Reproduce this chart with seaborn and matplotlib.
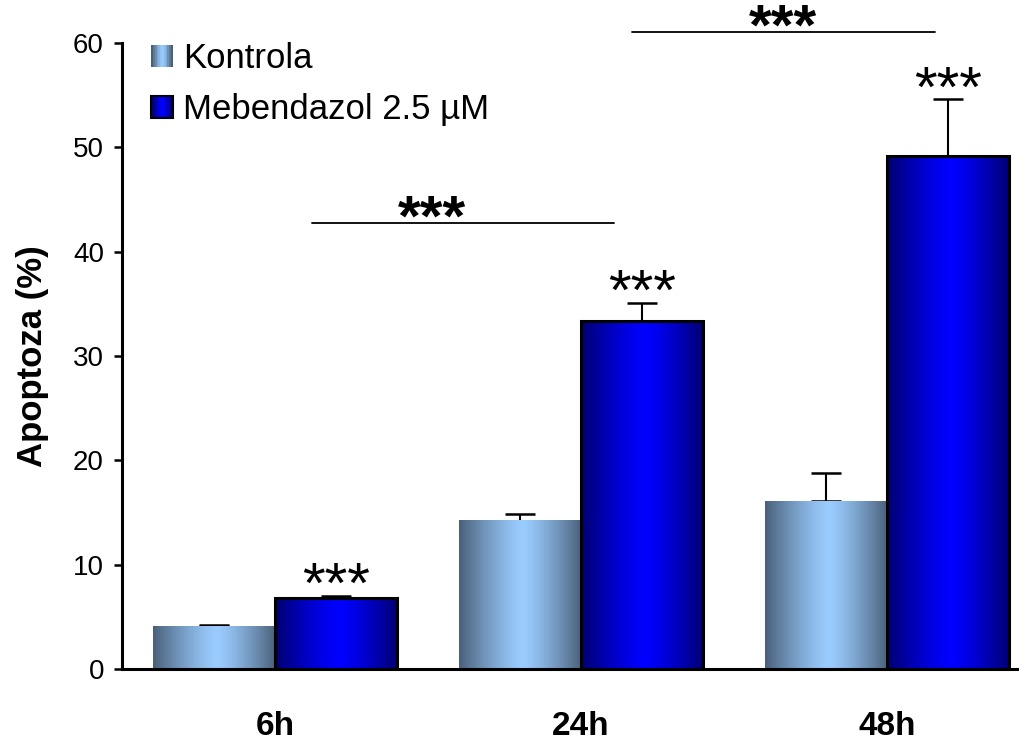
import numpy as np
import pandas as pd
import matplotlib
matplotlib.use("Agg")
import matplotlib.pyplot as plt
from matplotlib.patches import Rectangle
from matplotlib.legend_handler import HandlerBase
from matplotlib.colors import to_rgb
import seaborn as sns

# ---- data -------------------------------------------------------------
times = ["6h", "24h", "48h"]
groups = ["Kontrola", "Mebendazol 2.5 µM"]
kontrola = [4.1, 14.2, 16.1]
kontrola_err = [0.1, 0.7, 2.7]
mebendazol = [6.8, 33.4, 49.2]
mebendazol_err = [0.2, 1.7, 5.4]
y_ticks = [0, 10, 20, 30, 40, 50, 60]
bar_stars = ["***", "***", "***"]
bracket_stars = ["***", "***"]

# ---- style ------------------------------------------------------------
sns.set_theme(style="white")
plt.rcParams["font.family"] = ["Liberation Sans", "DejaVu Sans"]
for key in ("text.color", "axes.labelcolor", "xtick.color", "ytick.color"):
    plt.rcParams[key] = "black"

# edge / centre colours of the shaded bars
shades = {
    groups[0]: (to_rgb("#4a6079"), to_rgb("#9accff"), None),
    groups[1]: (to_rgb("#000070"), to_rgb("#0000ff"), "black"),
}


def gradient_row(edge, centre, n=256, peak=0.52):
    x = np.linspace(0, 1, n)
    t = np.where(x < peak, (peak - x) / peak, (x - peak) / (1 - peak))
    t = t ** 1.3
    e = np.array(edge)
    c = np.array(centre)
    return (c[None, :] + (e - c)[None, :] * t[:, None])[None, :, :]


df = pd.DataFrame({
    "time": times * 2,
    "group": [groups[0]] * 3 + [groups[1]] * 3,
    "value": kontrola + mebendazol,
})

fig = plt.figure(figsize=(10.19, 7.44), dpi=100)
ax = fig.add_axes([122 / 1019, 75 / 744, 918 / 1019, 626 / 744])

sns.barplot(data=df, x="time", y="value", hue="group", order=times,
            hue_order=groups, errorbar=None, width=0.8, gap=0,
            legend=False, ax=ax)

ax.set_xlim(-0.5, 2.5)
ax.set_ylim(0, 60)

STAR_SIZE = 42

# shade each bar with a horizontal gradient and add upper error bars
errs = [kontrola_err, mebendazol_err]
bar_containers = list(ax.containers)
for gi, cont in enumerate(bar_containers):
    edge, centre, outline = shades[groups[gi]]
    grad = gradient_row(edge, centre)
    xs, ys = [], []
    for patch in cont.patches:
        x0, w, h = patch.get_x(), patch.get_width(), patch.get_height()
        ax.imshow(grad, extent=[x0, x0 + w, 0, h], aspect="auto",
                  interpolation="bilinear", zorder=2)
        patch.set_facecolor("none")
        if outline:
            patch.set_edgecolor(outline)
            patch.set_linewidth(2.2)
            patch.set_zorder(3)
        else:
            patch.set_edgecolor("none")
        xs.append(x0 + w / 2)
        ys.append(h)
    ax.errorbar(xs, ys, yerr=[np.zeros(len(ys)), errs[gi]], fmt="none",
                ecolor="black", elinewidth=1.5, capsize=11, capthick=1.8,
                zorder=1.5)
    if gi == 1:
        for x, y, e, s in zip(xs, ys, errs[gi], bar_stars):
            ax.annotate(s, (x, y + e), xytext=(0, -5),
                        textcoords="offset points", ha="center",
                        va="baseline", fontsize=STAR_SIZE, color="black",
                        annotation_clip=False)

ax.set_xlim(-0.5, 2.5)
ax.set_ylim(0, 60)

# significance lines between time points
brackets = [((0.121, 1.108), 42.7), ((1.167, 2.157), 61.05)]
star_x = [0.513, 1.66]
for ((xa, xb), yb), sx, s in zip(brackets, star_x, bracket_stars):
    ax.plot([xa, xb], [yb, yb], color="black", lw=1.3, clip_on=False)
    ax.annotate(s, (sx, yb), xytext=(0, -9), textcoords="offset points",
                ha="center", va="baseline", fontsize=STAR_SIZE,
                fontweight="bold", color="black", annotation_clip=False)

# axes
sns.despine(ax=ax)
for side in ("left", "bottom"):
    ax.spines[side].set_color("black")
    ax.spines[side].set_linewidth(2.2)
ax.set_yticks(y_ticks)
ax.set_yticklabels([str(v) for v in y_ticks], fontsize=20)
ax.tick_params(axis="y", direction="out", length=6, width=1.8,
               color="black", pad=7, left=True)
ax.tick_params(axis="x", length=0, pad=30)
ax.set_xticks(range(len(times)))
ax.set_xticklabels(times, fontsize=24, fontweight="bold")
ax.set_xlabel("")
ax.set_ylabel("Apoptoza (%)", fontsize=25, fontweight="bold", labelpad=17)


class GradientHandler(HandlerBase):
    def __init__(self, edge, centre, outline):
        super().__init__()
        self.edge, self.centre, self.outline = edge, centre, outline

    def create_artists(self, legend, orig_handle, xdescent, ydescent,
                       width, height, fontsize, trans):
        row = gradient_row(self.edge, self.centre, n=12)[0]
        n = len(row)
        arts = []
        side = height
        x0 = -xdescent + (width - side) / 2
        y0 = -ydescent
        for i, c in enumerate(row):
            arts.append(Rectangle((x0 + i * side / n, y0), side / n + 0.3,
                                  side, facecolor=c, edgecolor="none",
                                  transform=trans))
        if self.outline:
            arts.append(Rectangle((x0, y0), side, side, facecolor="none",
                                  edgecolor=self.outline, lw=1.5,
                                  transform=trans))
        return arts


handles = [Rectangle((0, 0), 1, 1) for _ in groups]
handler_map = {h: GradientHandler(*shades[g]) for h, g in zip(handles, groups)}
fig.legend(handles, groups, handler_map=handler_map, loc="upper left",
           bbox_to_anchor=(152 / 1019, 1 - 42 / 744), frameon=False,
           fontsize=25, handlelength=0.58, handleheight=0.58,
           handletextpad=0.32, labelspacing=0.53, borderpad=0,
           borderaxespad=0)

fig.savefig("out.png", dpi=100)
